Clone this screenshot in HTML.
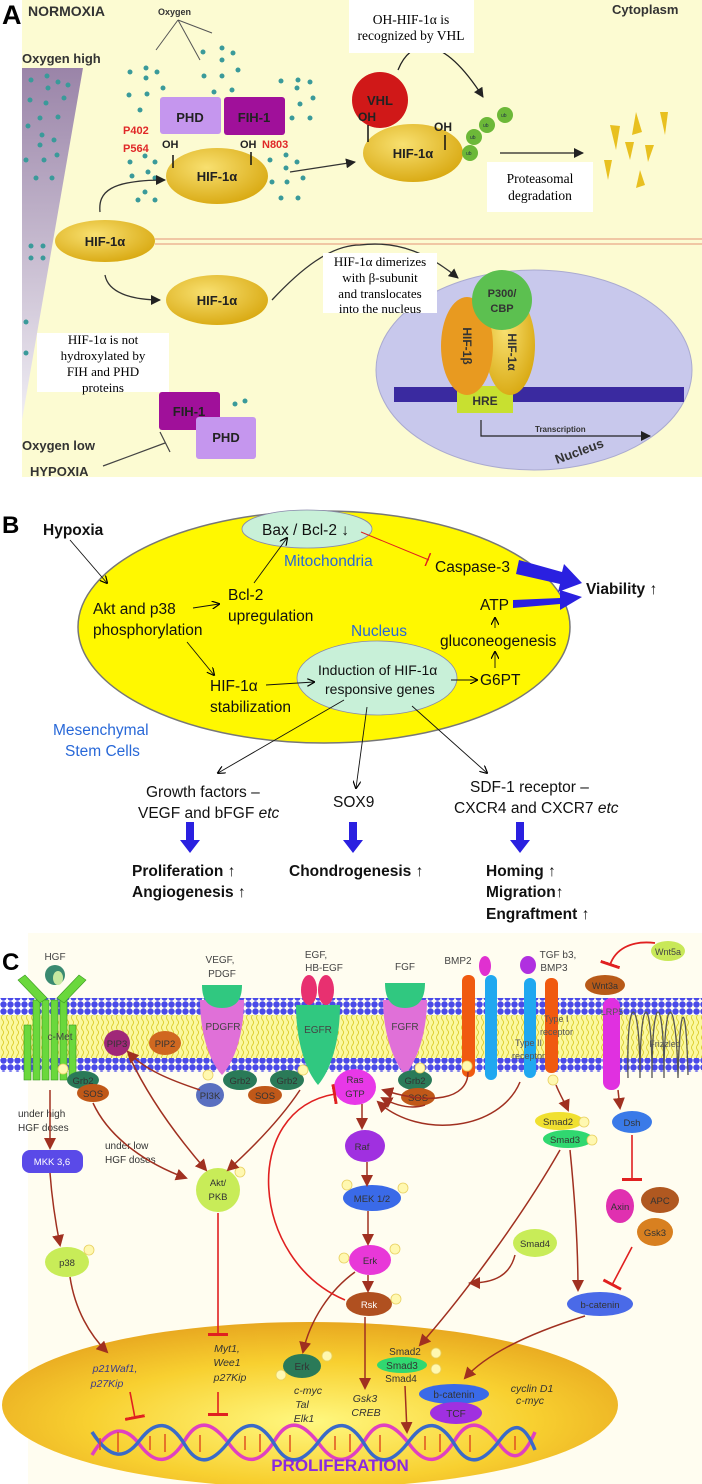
<!DOCTYPE html>
<html><head><meta charset="utf-8"><style>
html,body{margin:0;padding:0;background:#fff;}
svg{display:block;font-family:"Liberation Sans",sans-serif;}
.s{font-family:"Liberation Serif",serif;}
</style></head><body>
<svg width="702" height="1484" viewBox="0 0 702 1484" xmlns="http://www.w3.org/2000/svg">
<defs>
<marker id="ab" markerWidth="8" markerHeight="8" refX="7" refY="4" orient="auto" markerUnits="userSpaceOnUse"><path d="M0,0 L8,4 L0,8" fill="none" stroke="#000" stroke-width="1.2"/></marker>
<marker id="ak" markerWidth="10" markerHeight="10" refX="9" refY="5" orient="auto" markerUnits="userSpaceOnUse"><path d="M0,0 L10,5 L0,10 z" fill="#222"/></marker>
<marker id="ar" markerWidth="12" markerHeight="12" refX="10" refY="6" orient="auto" markerUnits="userSpaceOnUse"><path d="M0,0 L12,6 L0,12 z" fill="#a03020"/></marker>
<marker id="tee" markerWidth="4" markerHeight="20" refX="2" refY="10" orient="auto" markerUnits="userSpaceOnUse"><rect x="0" y="0" width="3" height="20" fill="#e02020"/></marker>
<marker id="teeb" markerWidth="4" markerHeight="14" refX="2" refY="7" orient="auto" markerUnits="userSpaceOnUse"><rect x="0" y="0" width="1.5" height="14" fill="#e02020"/></marker>
<linearGradient id="tri" x1="0" y1="0" x2="0" y2="1"><stop offset="0" stop-color="#9a84a8"/><stop offset="1" stop-color="#f0eef4"/></linearGradient>
<radialGradient id="gold" cx="0.4" cy="0.35" r="0.7"><stop offset="0" stop-color="#f8e070"/><stop offset="1" stop-color="#d8a810"/></radialGradient>
<radialGradient id="nuc" cx="0.5" cy="0.6" r="0.6"><stop offset="0" stop-color="#fff880"/><stop offset="0.6" stop-color="#f8d030"/><stop offset="1" stop-color="#e8a820"/></radialGradient>
<pattern id="dots" width="7" height="7" patternUnits="userSpaceOnUse"><circle cx="3.5" cy="3.5" r="3.2" fill="#4a4ae8"/></pattern>
<pattern id="tails" width="5" height="10" patternUnits="userSpaceOnUse"><path d="M2.5,0 q2,2.5 0,5 q-2,2.5 0,5" stroke="#d8c820" fill="none" stroke-width="0.8"/></pattern>
</defs>

<!-- ================= PANEL A ================= -->
<rect x="22" y="0" width="680" height="477" fill="#fcfbd2"/>
<text x="2" y="24" font-size="27" font-weight="bold">A</text>
<text x="28" y="16" font-size="14" font-weight="bold" fill="#333">NORMOXIA</text>
<text x="612" y="14" font-size="13" font-weight="bold" fill="#333">Cytoplasm</text>
<text x="158" y="15" font-size="9" font-weight="bold" fill="#333">Oxygen</text>
<path d="M178,20 L156,50 M178,20 L200,60 M178,20 L212,33" stroke="#555" stroke-width="1" fill="none"/>
<text x="22" y="63" font-size="13" font-weight="bold" fill="#333">Oxygen high</text>
<polygon points="22,68 83,68 22,420" fill="url(#tri)"/>
<path d="M155,239 H702 M155,244 H702" stroke="#e8a888" stroke-width="1.2"/>
<g fill="#3a9a9a">
<circle cx="31" cy="80" r="2.5"/><circle cx="47" cy="76" r="2.5"/><circle cx="58" cy="82" r="2.5"/><circle cx="48" cy="88" r="2.5"/><circle cx="68" cy="85" r="2.5"/><circle cx="30" cy="100" r="2.5"/><circle cx="46" cy="103" r="2.5"/><circle cx="64" cy="98" r="2.5"/><circle cx="40" cy="118" r="2.5"/><circle cx="58" cy="117" r="2.5"/><circle cx="28" cy="126" r="2.5"/><circle cx="42" cy="135" r="2.5"/><circle cx="54" cy="140" r="2.5"/><circle cx="40" cy="145" r="2.5"/><circle cx="26" cy="160" r="2.5"/><circle cx="44" cy="160" r="2.5"/><circle cx="57" cy="155" r="2.5"/><circle cx="36" cy="178" r="2.5"/><circle cx="52" cy="178" r="2.5"/><circle cx="31" cy="246" r="2.5"/><circle cx="43" cy="246" r="2.5"/><circle cx="31" cy="258" r="2.5"/><circle cx="43" cy="258" r="2.5"/><circle cx="26" cy="322" r="2.5"/><circle cx="26" cy="353" r="2.5"/>
<circle cx="130" cy="72" r="2.5"/><circle cx="146" cy="68" r="2.5"/><circle cx="157" cy="72" r="2.5"/><circle cx="146" cy="78" r="2.5"/><circle cx="129" cy="95" r="2.5"/><circle cx="147" cy="94" r="2.5"/><circle cx="163" cy="88" r="2.5"/><circle cx="203" cy="52" r="2.5"/><circle cx="222" cy="48" r="2.5"/><circle cx="233" cy="53" r="2.5"/><circle cx="222" cy="60" r="2.5"/><circle cx="204" cy="76" r="2.5"/><circle cx="222" cy="76" r="2.5"/><circle cx="238" cy="70" r="2.5"/><circle cx="214" cy="92" r="2.5"/><circle cx="232" cy="90" r="2.5"/><circle cx="281" cy="81" r="2.5"/><circle cx="298" cy="80" r="2.5"/><circle cx="310" cy="82" r="2.5"/><circle cx="297" cy="88" r="2.5"/><circle cx="282" cy="102" r="2.5"/><circle cx="300" cy="104" r="2.5"/><circle cx="313" cy="98" r="2.5"/><circle cx="292" cy="118" r="2.5"/><circle cx="310" cy="118" r="2.5"/><circle cx="140" cy="110" r="2.5"/><circle cx="130" cy="162" r="2.5"/><circle cx="145" cy="156" r="2.5"/><circle cx="155" cy="162" r="2.5"/><circle cx="132" cy="176" r="2.5"/><circle cx="148" cy="172" r="2.5"/><circle cx="155" cy="178" r="2.5"/><circle cx="145" cy="192" r="2.5"/><circle cx="138" cy="200" r="2.5"/><circle cx="155" cy="200" r="2.5"/><circle cx="270" cy="160" r="2.5"/><circle cx="286" cy="155" r="2.5"/><circle cx="297" cy="162" r="2.5"/><circle cx="286" cy="168" r="2.5"/><circle cx="272" cy="182" r="2.5"/><circle cx="287" cy="182" r="2.5"/><circle cx="303" cy="178" r="2.5"/><circle cx="281" cy="198" r="2.5"/><circle cx="298" cy="198" r="2.5"/><circle cx="235" cy="404" r="2.5"/><circle cx="245" cy="401" r="2.5"/>
</g>
<rect x="160" y="97" width="61" height="37" rx="3" fill="#c596ee"/>
<text x="190" y="122" font-size="13" font-weight="bold" text-anchor="middle" fill="#222">PHD</text>
<rect x="224" y="97" width="61" height="38" rx="3" fill="#a0109a"/>
<text x="254" y="122" font-size="13" font-weight="bold" text-anchor="middle" fill="#222">FIH-1</text>
<text x="123" y="134" font-size="11" font-weight="bold" fill="#e02828">P402</text>
<text x="123" y="152" font-size="11" font-weight="bold" fill="#e02828">P564</text>
<text x="162" y="148" font-size="11" font-weight="bold" fill="#222">OH</text>
<text x="240" y="148" font-size="11" font-weight="bold" fill="#222">OH</text>
<text x="262" y="148" font-size="11" font-weight="bold" fill="#e02828">N803</text>
<ellipse cx="217" cy="176" rx="51" ry="28" fill="url(#gold)"/>
<path d="M173,155 V168 M251,152 V165" stroke="#111" stroke-width="1.5"/>
<text x="217" y="181" font-size="13" font-weight="bold" text-anchor="middle" fill="#222">HIF-1α</text>
<ellipse cx="105" cy="241" rx="50" ry="21" fill="url(#gold)"/>
<text x="105" y="246" font-size="13" font-weight="bold" text-anchor="middle" fill="#222">HIF-1α</text>
<ellipse cx="217" cy="300" rx="51" ry="25" fill="url(#gold)"/>
<text x="217" y="305" font-size="13" font-weight="bold" text-anchor="middle" fill="#222">HIF-1α</text>
<path d="M100,212 C98,192 110,180 165,180" stroke="#333" stroke-width="1.3" fill="none" marker-end="url(#ak)"/>
<path d="M105,275 C108,292 130,300 160,300" stroke="#333" stroke-width="1.3" fill="none" marker-end="url(#ak)"/>
<path d="M290,172 L355,162" stroke="#333" stroke-width="1.3" marker-end="url(#ak)"/>
<path d="M272,300 C300,270 330,245 360,245 C400,240 430,255 458,278" stroke="#333" stroke-width="1.3" fill="none" marker-end="url(#ak)"/>
<ellipse cx="413" cy="153" rx="50" ry="29" fill="url(#gold)"/>
<circle cx="380" cy="100" r="28" fill="#d01818"/>
<text x="380" y="105" font-size="13" font-weight="bold" text-anchor="middle" fill="#222">VHL</text>
<text x="358" y="121" font-size="12" font-weight="bold" fill="#222">OH</text>
<text x="434" y="131" font-size="12" font-weight="bold" fill="#222">OH</text>
<path d="M368,125 V142 M445,135 V150" stroke="#111" stroke-width="1.5"/>
<text x="413" y="158" font-size="13" font-weight="bold" text-anchor="middle" fill="#222">HIF-1α</text>
<g fill="#6cb838"><circle cx="470" cy="153" r="8"/><circle cx="474" cy="137" r="8"/><circle cx="487" cy="125" r="8"/><circle cx="505" cy="115" r="8"/></g>
<g font-size="5" fill="#234"><text x="466" y="155">ub</text><text x="470" y="139">ub</text><text x="483" y="127">ub</text><text x="501" y="117">ub</text></g>
<path d="M398,70 C410,40 440,30 483,97" stroke="#222" stroke-width="1.3" fill="none" marker-end="url(#ak)"/>
<rect x="349" y="0" width="125" height="53" fill="#fff"/>
<text class="s" x="411" y="24" font-size="13.5" text-anchor="middle">OH-HIF-1α is</text>
<text class="s" x="411" y="40" font-size="13.5" text-anchor="middle">recognized by VHL</text>
<path d="M500,153 L583,153" stroke="#222" stroke-width="1.3" marker-end="url(#ak)"/>
<rect x="487" y="162" width="106" height="50" fill="#fff"/>
<text class="s" x="540" y="183" font-size="13.5" text-anchor="middle">Proteasomal</text>
<text class="s" x="540" y="200" font-size="13.5" text-anchor="middle">degradation</text>
<g fill="#e8c020"><polygon points="610,125 616,150 620,126"/><polygon points="636,112 632,135 642,132"/><polygon points="660,112 665,135 668,112"/><polygon points="625,142 630,160 634,142"/><polygon points="645,145 648,162 654,145"/><polygon points="604,160 608,180 612,160"/><polygon points="640,170 636,188 645,185"/></g>
<ellipse cx="534" cy="370" rx="158" ry="100" fill="#c8c8ec" stroke="#aaaad0"/>
<rect x="394" y="387" width="290" height="15" fill="#3a2aa0"/>
<rect x="457" y="386" width="56" height="27" fill="#c8e030"/>
<text x="485" y="405" font-size="12" font-weight="bold" text-anchor="middle" fill="#333">HRE</text>
<ellipse cx="510" cy="345" rx="25" ry="50" fill="url(#gold)"/>
<ellipse cx="467" cy="346" rx="26" ry="49" fill="#e89a20"/>
<circle cx="502" cy="300" r="30" fill="#5cc050"/>
<text x="502" y="297" font-size="11" font-weight="bold" text-anchor="middle" fill="#333">P300/</text>
<text x="502" y="312" font-size="11" font-weight="bold" text-anchor="middle" fill="#333">CBP</text>
<text transform="translate(463,346) rotate(90)" font-size="12" font-weight="bold" text-anchor="middle" fill="#333">HIF-1β</text>
<text transform="translate(508,352) rotate(90)" font-size="12" font-weight="bold" text-anchor="middle" fill="#333">HIF-1α</text>
<path d="M481,420 V436 H650" stroke="#222" stroke-width="1.2" fill="none" marker-end="url(#ak)"/>
<text x="535" y="432" font-size="8" font-weight="bold" fill="#333">Transcription</text>
<text transform="translate(557,464) rotate(-20)" font-size="13" font-weight="bold" fill="#333">Nucleus</text>
<rect x="323" y="253" width="114" height="60" fill="#fff"/>
<text class="s" x="380" y="266" font-size="13" text-anchor="middle">HIF-1α dimerizes</text>
<text class="s" x="380" y="282" font-size="13" text-anchor="middle">with β-subunit</text>
<text class="s" x="380" y="298" font-size="13" text-anchor="middle">and translocates</text>
<text class="s" x="380" y="313" font-size="13" text-anchor="middle">into the nucleus</text>
<rect x="37" y="333" width="132" height="59" fill="#fff"/>
<text class="s" x="103" y="344" font-size="13" text-anchor="middle">HIF-1α is not</text>
<text class="s" x="103" y="360" font-size="13" text-anchor="middle">hydroxylated by</text>
<text class="s" x="103" y="376" font-size="13" text-anchor="middle">FIH and PHD</text>
<text class="s" x="103" y="392" font-size="13" text-anchor="middle">proteins</text>
<rect x="159" y="392" width="61" height="38" rx="3" fill="#a0109a"/>
<text x="189" y="416" font-size="13" font-weight="bold" text-anchor="middle" fill="#222">FIH-1</text>
<rect x="196" y="417" width="60" height="42" rx="3" fill="#c596ee"/>
<text x="226" y="442" font-size="13" font-weight="bold" text-anchor="middle" fill="#222">PHD</text>
<text x="22" y="450" font-size="13" font-weight="bold" fill="#333">Oxygen low</text>
<text x="30" y="476" font-size="13" font-weight="bold" fill="#333">HYPOXIA</text>
<path d="M103,466 L165,443 M160,432 L170,452" stroke="#444" stroke-width="1.2"/>

<!-- ================= PANEL B ================= -->
<text x="2" y="533" font-size="24" font-weight="bold">B</text>
<ellipse cx="324" cy="627" rx="246" ry="116" fill="#fff800" stroke="#777" stroke-width="1.5"/>
<ellipse cx="307" cy="529" rx="65" ry="19" fill="#c8f0d8" stroke="#88a" stroke-width="0.8"/>
<ellipse cx="377" cy="678" rx="80" ry="37" fill="#c8f0d8" stroke="#88a" stroke-width="0.8"/>
<g font-size="15.5" fill="#111">
<text x="43" y="535" font-weight="bold">Hypoxia</text>
<text x="262" y="535">Bax / Bcl-2 ↓</text>
<text x="284" y="566" fill="#2868d8">Mitochondria</text>
<text x="435" y="572">Caspase-3</text>
<text x="586" y="594" font-weight="bold">Viability ↑</text>
<text x="93" y="614">Akt and p38</text>
<text x="93" y="635">phosphorylation</text>
<text x="228" y="600">Bcl-2</text>
<text x="228" y="621">upregulation</text>
<text x="351" y="636" fill="#2868d8">Nucleus</text>
<text x="480" y="610">ATP</text>
<text x="440" y="646">gluconeogenesis</text>
<text x="480" y="685">G6PT</text>
<text x="318" y="675" font-size="14">Induction of HIF-1α</text>
<text x="325" y="694" font-size="14">responsive genes</text>
<text x="210" y="691">HIF-1α</text>
<text x="210" y="712">stabilization</text>
<text x="53" y="735" fill="#2868d8">Mesenchymal</text>
<text x="65" y="756" fill="#2868d8">Stem Cells</text>
<text x="146" y="797">Growth factors –</text>
<text x="138" y="818">VEGF and bFGF <tspan font-style="italic">etc</tspan></text>
<text x="333" y="807">SOX9</text>
<text x="470" y="792">SDF-1 receptor –</text>
<text x="454" y="813">CXCR4 and CXCR7 <tspan font-style="italic">etc</tspan></text>
<text x="132" y="876" font-weight="bold">Proliferation ↑</text>
<text x="132" y="897" font-weight="bold">Angiogenesis ↑</text>
<text x="289" y="876" font-weight="bold">Chondrogenesis ↑</text>
<text x="486" y="876" font-weight="bold">Homing ↑</text>
<text x="486" y="897" font-weight="bold">Migration↑</text>
<text x="486" y="919" font-weight="bold">Engraftment ↑</text>
</g>
<g stroke="#111" stroke-width="0.9" fill="none" marker-end="url(#ab)">
<path d="M70,540 L107,583"/><path d="M193,608 L219,604"/><path d="M254,583 L287,538"/>
<path d="M187,642 L214,675"/><path d="M266,685 L314,682"/><path d="M451,680 L477,680"/>
<path d="M495,668 L495,652"/><path d="M495,628 L495,618"/>
<path d="M344,700 L218,773"/><path d="M367,707 L356,788"/><path d="M412,706 L487,773"/>
</g>
<path d="M361,532 L429,560" stroke="#e02020" stroke-width="1" marker-end="url(#teeb)"/>
<g fill="#2a20e0">
<polygon points="519,560 562,572 564,564 582,583 558,592 560,584 516,574"/>
<polygon points="513,600 560,598 560,590 582,597 560,610 560,604 513,608"/>
<polygon points="186,822 194,822 194,840 200,840 190,853 180,840 186,840"/>
<polygon points="349,822 357,822 357,840 363,840 353,853 343,840 349,840"/>
<polygon points="516,822 524,822 524,840 530,840 520,853 510,840 516,840"/>
</g>

<!-- ================= PANEL C ================= -->
<rect x="28" y="933" width="674" height="551" fill="#fffdf0"/>
<text x="2" y="970" font-size="24" font-weight="bold">C</text>
<rect x="0" y="998" width="702" height="17" fill="url(#dots)"/>
<rect x="0" y="1015" width="702" height="43" fill="#fbf8a0"/>
<rect x="0" y="1015" width="702" height="43" fill="url(#tails)"/>
<rect x="0" y="1058" width="702" height="14" fill="url(#dots)"/>
<g fill="#6ad83c" stroke="#3a9a20" stroke-width="0.6">
<rect x="24" y="1025" width="7" height="55"/><rect x="33" y="1000" width="7" height="80"/><rect x="42" y="1000" width="7" height="80"/><rect x="51" y="1000" width="7" height="80"/><rect x="60" y="1000" width="7" height="80"/><rect x="69" y="1025" width="7" height="55"/>
<path d="M18,980 L40,1003 L47,998 L25,975 z"/><path d="M86,980 L64,1003 L57,998 L79,975 z"/>
</g>
<text x="55" y="960" font-size="10" text-anchor="middle" fill="#444">HGF</text>
<circle cx="55" cy="975" r="10" fill="#3a8a70"/><ellipse cx="58" cy="978" rx="5" ry="7" fill="#c8e8a0"/>
<text x="60" y="1040" font-size="10" text-anchor="middle" fill="#444">c-Met</text>
<text x="220" y="963" font-size="10" text-anchor="middle" fill="#444">VEGF,</text>
<text x="222" y="977" font-size="10" text-anchor="middle" fill="#444">PDGF</text>
<path d="M200,1000 C200,1030 208,1060 222,1075 C236,1060 244,1030 244,1000 z" fill="#e070d8"/>
<path d="M202,985 C202,1000 208,1008 222,1008 C236,1008 242,1000 242,985 z" fill="#30c880"/>
<text x="223" y="1030" font-size="10" text-anchor="middle" fill="#444">PDGFR</text>
<text x="316" y="958" font-size="10" text-anchor="middle" fill="#444">EGF,</text>
<text x="324" y="971" font-size="10" text-anchor="middle" fill="#444">HB-EGF</text>
<path d="M296,1005 C296,1040 305,1070 318,1085 C331,1070 340,1040 340,1005 z" fill="#30c880"/>
<ellipse cx="309" cy="990" rx="8" ry="15" fill="#e83070"/><ellipse cx="326" cy="990" rx="8" ry="15" fill="#e83070"/>
<text x="318" y="1033" font-size="10" text-anchor="middle" fill="#444">EGFR</text>
<text x="405" y="970" font-size="10" text-anchor="middle" fill="#444">FGF</text>
<path d="M383,1000 C383,1030 392,1060 405,1075 C418,1060 427,1030 427,1000 z" fill="#e070d8"/>
<path d="M385,983 C385,1000 392,1008 405,1008 C418,1008 425,1000 425,983 z" fill="#30c880"/>
<text x="405" y="1030" font-size="10" text-anchor="middle" fill="#444">FGFR</text>
<text x="458" y="964" font-size="10" text-anchor="middle" fill="#444">BMP2</text>
<ellipse cx="485" cy="966" rx="6" ry="10" fill="#e030d0"/>
<rect x="462" y="975" width="13" height="102" rx="6" fill="#f05a10"/>
<rect x="485" y="975" width="12" height="105" rx="6" fill="#20a8f0"/>
<ellipse cx="528" cy="965" rx="8" ry="9" fill="#b030e0"/>
<text x="558" y="958" font-size="10" text-anchor="middle" fill="#444">TGF b3,</text>
<text x="554" y="971" font-size="10" text-anchor="middle" fill="#444">BMP3</text>
<rect x="524" y="978" width="12" height="100" rx="6" fill="#20a8f0"/>
<rect x="545" y="978" width="13" height="95" rx="6" fill="#f05a10"/>
<text x="544" y="1022" font-size="9" fill="#555">Type I</text><text x="540" y="1035" font-size="9" fill="#555">receptor</text>
<text x="515" y="1046" font-size="9" fill="#555">Type II</text><text x="512" y="1059" font-size="9" fill="#555">receptor</text>
<ellipse cx="668" cy="951" rx="17" ry="10" fill="#c8e858"/>
<text x="668" y="955" font-size="9" text-anchor="middle" fill="#444">Wnt5a</text>
<path d="M655,943 C630,940 615,950 610,965" stroke="#e02020" stroke-width="1.8" fill="none" marker-end="url(#tee)"/>
<ellipse cx="605" cy="985" rx="20" ry="10" fill="#b85a18"/>
<text x="605" y="989" font-size="9" text-anchor="middle" fill="#333">Wnt3a</text>
<rect x="603" y="998" width="17" height="92" rx="8" fill="#e030e0"/>
<text x="612" y="1015" font-size="9" text-anchor="middle" fill="#555">LRP5</text>
<path d="M628,1078 C626,990 640,990 640,1078 C640,990 652,990 652,1078 C652,990 664,990 664,1078 C664,990 676,990 678,1078 C680,1000 686,995 688,1075" stroke="#555" stroke-width="1.3" fill="none"/>
<text x="665" y="1047" font-size="9" text-anchor="middle" fill="#555">Frizzled</text>
<g font-size="9.5" text-anchor="middle" fill="#333">
<circle cx="117" cy="1043" r="13" fill="#a02878"/><text x="117" y="1047">PIP3</text>
<ellipse cx="165" cy="1043" rx="16" ry="12" fill="#d06820"/><text x="165" y="1047">PIP2</text>
<ellipse cx="83" cy="1080" rx="16" ry="9" fill="#2a7a58"/><text x="83" y="1084">Grb2</text>
<ellipse cx="93" cy="1093" rx="16" ry="9" fill="#c05818"/><text x="93" y="1097">SOS</text>
<ellipse cx="210" cy="1095" rx="14" ry="12" fill="#5a70c0"/><text x="210" y="1099">PI3K</text>
<ellipse cx="240" cy="1080" rx="17" ry="10" fill="#2a7a58"/><text x="240" y="1084">Grb2</text>
<ellipse cx="265" cy="1095" rx="17" ry="9" fill="#c05818"/><text x="265" y="1099">SOS</text>
<ellipse cx="287" cy="1080" rx="17" ry="10" fill="#2a7a58"/><text x="287" y="1084">Grb2</text>
<ellipse cx="355" cy="1087" rx="21" ry="18" fill="#e838e8"/><text x="355" y="1083">Ras</text><text x="355" y="1097">GTP</text>
<ellipse cx="415" cy="1080" rx="17" ry="10" fill="#2a7a58"/><text x="415" y="1084">Grb2</text>
<ellipse cx="418" cy="1097" rx="17" ry="9" fill="#c05818"/><text x="418" y="1101">SOS</text>
<ellipse cx="559" cy="1121" rx="24" ry="9" fill="#f0e030"/><text x="558" y="1125">Smad2</text>
<ellipse cx="568" cy="1139" rx="25" ry="9" fill="#30d870"/><text x="565" y="1143">Smad3</text>
<ellipse cx="632" cy="1122" rx="20" ry="11" fill="#3a7ae8"/><text x="632" y="1126">Dsh</text>
<rect x="22" y="1150" width="61" height="23" rx="8" fill="#5a4ae8"/><text x="52" y="1165" fill="#fff">MKK 3,6</text>
<ellipse cx="67" cy="1262" rx="22" ry="15" fill="#c8ec58"/><text x="67" y="1266">p38</text>
<ellipse cx="218" cy="1190" rx="22" ry="22" fill="#c8ec58"/><text x="218" y="1186">Akt/</text><text x="218" y="1200">PKB</text>
<ellipse cx="365" cy="1146" rx="20" ry="16" fill="#a030e0"/><text x="362" y="1150">Raf</text>
<ellipse cx="372" cy="1198" rx="29" ry="13" fill="#3a6ae8"/><text x="372" y="1202">MEK 1/2</text>
<ellipse cx="370" cy="1260" rx="21" ry="15" fill="#e838d8"/><text x="370" y="1264">Erk</text>
<ellipse cx="369" cy="1304" rx="23" ry="12" fill="#b05020"/><text x="369" y="1308" fill="#fff">Rsk</text>
<ellipse cx="535" cy="1243" rx="22" ry="14" fill="#c8ec58"/><text x="535" y="1247">Smad4</text>
<ellipse cx="620" cy="1206" rx="14" ry="17" fill="#e030b0"/><text x="620" y="1210">Axin</text>
<ellipse cx="660" cy="1200" rx="19" ry="13" fill="#b05820"/><text x="660" y="1204">APC</text>
<ellipse cx="655" cy="1232" rx="18" ry="14" fill="#d88020"/><text x="655" y="1236">Gsk3</text>
<ellipse cx="600" cy="1304" rx="33" ry="12" fill="#4a6ae8"/><text x="600" y="1308">b-catenin</text>
</g>
<g font-size="10" fill="#333">
<text x="18" y="1117">under high</text><text x="18" y="1131">HGF doses</text>
<text x="105" y="1149">under low</text><text x="105" y="1163">HGF doses</text>
</g>
<ellipse cx="310" cy="1405" rx="308" ry="83" fill="url(#nuc)"/>
<g font-size="10.5" font-style="italic" fill="#333" text-anchor="middle">
<text x="115" y="1372" fill="#3a3a8a">p21Waf1,</text><text x="107" y="1387" fill="#3a3a8a">p27Kip</text>
<text x="227" y="1352">Myt1,</text><text x="227" y="1366">Wee1</text><text x="230" y="1381">p27Kip</text>
<text x="308" y="1394">c-myc</text><text x="302" y="1408">Tal</text><text x="304" y="1422">Elk1</text>
<text x="365" y="1402">Gsk3</text><text x="366" y="1416">CREB</text>
<text x="532" y="1392">cyclin D1</text><text x="530" y="1404">c-myc</text>
</g>
<g font-size="10" text-anchor="middle" fill="#333">
<ellipse cx="302" cy="1366" rx="19" ry="12" fill="#2a7a58"/><text x="302" y="1370">Erk</text>
<text x="405" y="1355">Smad2</text>
<ellipse cx="402" cy="1365" rx="25" ry="8" fill="#30d870"/><text x="402" y="1369">Smad3</text>
<text x="401" y="1382">Smad4</text>
<ellipse cx="454" cy="1394" rx="35" ry="10" fill="#3a6ae8"/><text x="454" y="1398">b-catenin</text>
<ellipse cx="456" cy="1413" rx="26" ry="11" fill="#a030e0"/><text x="456" y="1417">TCF</text>
</g>
<g fill="none" stroke-width="3.5">
<path d="M92,1455 C110,1425 125,1425 140,1445 S170,1465 185,1440 S215,1425 230,1445 S260,1465 275,1440 S305,1425 320,1445 S350,1465 365,1440 S395,1425 410,1445 S440,1465 455,1440 S485,1425 500,1445 S525,1455 535,1432" stroke="#e040c0"/>
<path d="M92,1432 C110,1460 125,1460 140,1440 S170,1420 185,1445 S215,1460 230,1440 S260,1420 275,1445 S305,1460 320,1440 S350,1420 365,1445 S395,1460 410,1440 S440,1420 455,1445 S485,1460 500,1440 S525,1425 535,1450" stroke="#3a6ac8"/>
</g>
<g stroke="#e05020" stroke-width="1.5"><path d="M100,1438 V1450 M118,1432 V1452 M150,1436 V1450 M165,1434 V1452 M200,1435 V1452 M245,1436 V1450 M260,1434 V1452 M290,1435 V1452 M335,1436 V1450 M350,1434 V1452 M380,1435 V1452 M425,1436 V1450 M440,1434 V1452 M470,1435 V1452 M515,1436 V1450"/></g>
<text x="340" y="1471" font-size="17" font-weight="bold" text-anchor="middle" fill="#8a2ae0">PROLIFERATION</text>
<g fill="#fff8b0" stroke="#e8d060" stroke-width="0.8" font-size="7">
<circle cx="63" cy="1069" r="5"/><circle cx="208" cy="1075" r="5"/><circle cx="303" cy="1070" r="5"/><circle cx="420" cy="1068" r="5"/><circle cx="467" cy="1066" r="5"/><circle cx="553" cy="1080" r="5"/><circle cx="584" cy="1122" r="5"/><circle cx="592" cy="1140" r="5"/><circle cx="240" cy="1172" r="5"/><circle cx="347" cy="1185" r="5"/><circle cx="403" cy="1188" r="5"/><circle cx="89" cy="1250" r="5"/><circle cx="395" cy="1249" r="5"/><circle cx="344" cy="1258" r="5"/><circle cx="396" cy="1299" r="5"/><circle cx="327" cy="1356" r="5"/><circle cx="281" cy="1375" r="5"/><circle cx="436" cy="1353" r="5"/><circle cx="436" cy="1369" r="5"/>
</g>
<g stroke="#a03020" stroke-width="1.5" fill="none" marker-end="url(#ar)">
<path d="M50,1090 L50,1148"/><path d="M50,1173 C52,1200 55,1220 60,1245"/><path d="M70,1277 C75,1310 90,1335 107,1352"/>
<path d="M93,1103 C110,1140 150,1165 186,1178"/><path d="M130,1058 C150,1100 180,1140 206,1170"/>
<path d="M200,1090 C170,1080 145,1070 128,1052"/><path d="M300,1090 C280,1120 250,1150 228,1170"/>
<path d="M362,1104 L362,1128"/><path d="M367,1162 L367,1185"/><path d="M368,1211 L368,1244"/><path d="M368,1275 L368,1291"/>
<path d="M365,1317 L365,1388"/><path d="M355,1272 C330,1290 310,1320 303,1352"/>
<path d="M560,1150 C520,1220 460,1300 420,1345"/><path d="M570,1150 C575,1200 578,1250 578,1290"/>
<path d="M515,1255 C510,1275 495,1283 470,1283"/><path d="M585,1316 C540,1330 490,1350 465,1378"/>
<path d="M405,1386 L407,1432"/><path d="M556,1085 C560,1095 565,1103 568,1110"/><path d="M618,1090 L620,1108"/>
<path d="M468,1072 C468,1100 430,1105 383,1090"/><path d="M520,1082 C500,1130 420,1140 378,1102"/>
<path d="M425,1105 C410,1110 395,1105 382,1098"/>
</g>
<g stroke="#e02020" stroke-width="1.6" fill="none" marker-end="url(#tee)">
<path d="M218,1213 L218,1335"/><path d="M218,1392 L218,1415"/><path d="M130,1392 L135,1418"/>
<path d="M345,1300 C250,1260 240,1110 335,1094"/><path d="M632,1135 L632,1180"/><path d="M632,1247 L612,1285"/>
</g>
</svg>
</body></html>
